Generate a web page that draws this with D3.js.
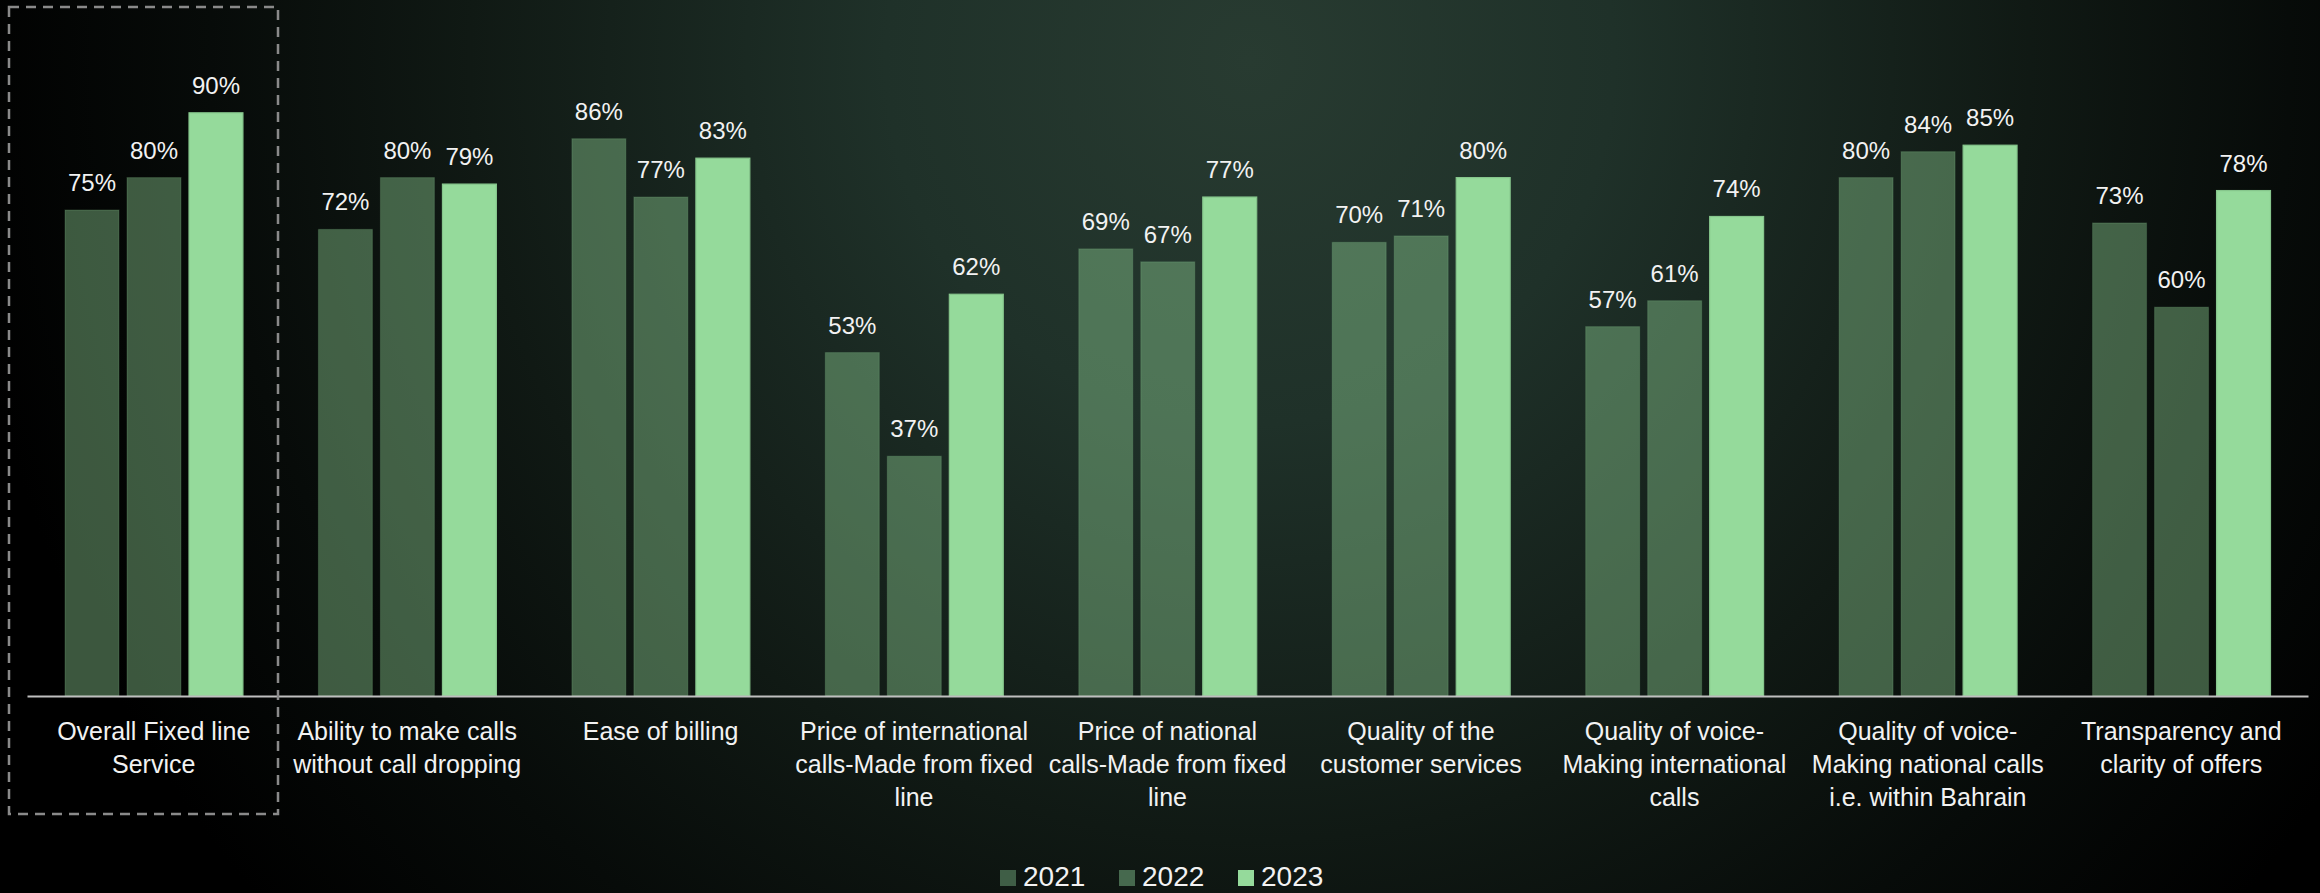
<!DOCTYPE html>
<html>
<head>
<meta charset="utf-8">
<script src="https://cdn.jsdelivr.net/npm/d3@7"></script>
<style>
  html, body { margin: 0; padding: 0; background: #000; overflow: hidden; }
  svg { display: block; }
</style>
</head>
<body>
<svg id="chart" width="2320" height="893"></svg>
<script>
// ---- Data ----
const categories = [
  "Overall Fixed line Service",
  "Ability to make calls without call dropping",
  "Ease of billing",
  "Price of international calls-Made from fixed line",
  "Price of national calls-Made from fixed line",
  "Quality of the customer services",
  "Quality of voice-Making international calls",
  "Quality of voice-Making national calls i.e. within Bahrain",
  "Transparency and clarity of offers"
];
const categoryLines = [
  ["Overall Fixed line", "Service"],
  ["Ability to make calls", "without call dropping"],
  ["Ease of billing"],
  ["Price of international", "calls-Made from fixed", "line"],
  ["Price of national", "calls-Made from fixed", "line"],
  ["Quality of the", "customer services"],
  ["Quality of voice-", "Making international", "calls"],
  ["Quality of voice-", "Making national calls", "i.e. within Bahrain"],
  ["Transparency and", "clarity of offers"]
];
const years = ["2021", "2022", "2023"];
const values2021 = [75, 72, 86, 53, 69, 70, 57, 80, 73];
const values2022 = [80, 80, 77, 37, 67, 71, 61, 84, 60];
const values2023 = [90, 79, 83, 62, 77, 80, 74, 85, 78];
const seriesValues = [values2021, values2022, values2023];

// ---- Setup ----
const W = 2320, H = 893;
const svg = d3.select("#chart");

// background radial gradient
const defs = svg.append("defs");
const grad = defs.append("radialGradient")
  .attr("id", "bg").attr("gradientUnits", "userSpaceOnUse")
  .attr("cx", 1250).attr("cy", 60).attr("r", 1300);
[[0, "#283b31"], [0.28, "#1f3129"], [0.6, "#101914"], [0.8, "#070b09"], [1, "#000000"]]
  .forEach(([o, c]) => grad.append("stop").attr("offset", o).attr("stop-color", c));
svg.append("rect").attr("width", W).attr("height", H).attr("fill", "url(#bg)");

const x0 = d3.scaleBand().domain(categories).range([27, 2308]).padding(0);
const x1 = d3.scaleBand().domain(years)
  .range([x0.bandwidth() * 0.15, x0.bandwidth() * 0.852])
  .paddingInner(0.13);
const y = d3.scaleLinear().domain([0, 100]).range([696, 48]);

const fills = { "2021": "rgba(149,218,155,0.40)", "2022": "rgba(149,218,155,0.40)", "2023": "#95da9b" };
const strokes = { "2021": "rgba(149,218,155,0.18)", "2022": "rgba(149,218,155,0.18)", "2023": "#86c68c" };
const legendFills = { "2021": "#3f5e46", "2022": "#46694e", "2023": "#95da9b" };

// bars
const groups = svg.append("g").selectAll("g")
  .data(categories).join("g")
  .attr("transform", d => `translate(${x0(d)},0)`);

groups.selectAll("rect")
  .data((d, i) => years.map((yr, k) => ({ yr, v: seriesValues[k][i] })))
  .join("rect")
  .attr("x", d => x1(d.yr))
  .attr("y", d => y(d.v))
  .attr("width", x1.bandwidth())
  .attr("height", d => y(0) - y(d.v))
  .attr("fill", d => fills[d.yr])
  .attr("stroke", d => strokes[d.yr])
  .attr("stroke-width", 1.2);

groups.selectAll("text.val")
  .data((d, i) => years.map((yr, k) => ({ yr, v: seriesValues[k][i] })))
  .join("text").attr("class", "val")
  .attr("x", d => x1(d.yr) + x1.bandwidth() / 2)
  .attr("y", d => y(d.v) - 19)
  .attr("text-anchor", "middle")
  .attr("font-family", "'Liberation Sans', Arial, sans-serif")
  .attr("font-size", 24)
  .attr("fill", "#f2f2f2")
  .text(d => d.v + "%");

// x axis
const xAxis = svg.append("g")
  .attr("transform", `translate(0,${y(0)})`)
  .call(d3.axisBottom(x0).tickSize(0).tickSizeOuter(0));
xAxis.select(".domain").attr("stroke", "#bfbfbf").attr("stroke-width", 2);
xAxis.selectAll(".tick text").each(function (d) {
  const t = d3.select(this);
  const lines = categoryLines[categories.indexOf(d)];
  t.text(null)
    .attr("y", 0).attr("dy", null)
    .attr("font-family", "'Liberation Sans', Arial, sans-serif")
    .attr("font-size", 25)
    .attr("fill", "#f2f2f2");
  lines.forEach((ln, i) => {
    t.append("tspan").attr("x", 0).attr("y", 44 + i * 33).text(ln);
  });
});

// dashed highlight box
svg.append("rect")
  .attr("x", 9).attr("y", 7).attr("width", 269).attr("height", 807)
  .attr("fill", "none").attr("stroke", "#8a8a8a")
  .attr("stroke-width", 2.5).attr("stroke-dasharray", "10,7");

// legend
const legend = svg.append("g");
const lx = d3.scalePoint().domain(years).range([1000, 1238]);
const li = legend.selectAll("g").data(years).join("g")
  .attr("transform", d => `translate(${lx(d)},0)`);
li.append("rect").attr("x", 0).attr("y", 870).attr("width", 16).attr("height", 16)
  .attr("fill", d => legendFills[d]);
li.append("text").attr("x", 23).attr("y", 886)
  .attr("font-family", "'Liberation Sans', Arial, sans-serif")
  .attr("font-size", 28).attr("fill", "#f2f2f2")
  .text(d => d);
</script>
</body>
</html>
